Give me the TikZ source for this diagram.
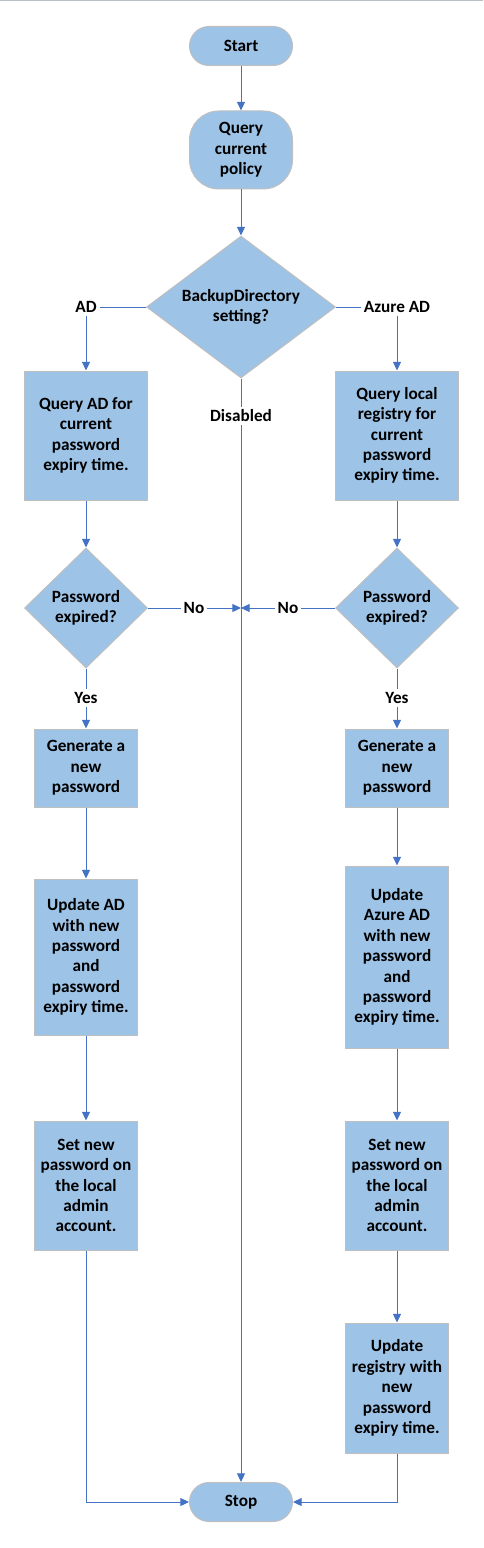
\documentclass[tikz,border=0pt]{standalone}
\usepackage{fontspec}
\setmainfont{Carlito}
\usepackage{tikz}
\usetikzlibrary{arrows.meta}
\usetikzlibrary{shapes.geometric}
\definecolor{boxblue}{HTML}{9DC3E6}
\definecolor{boxedge}{HTML}{BFBFBF}
\definecolor{flowblue}{HTML}{4472C4}
\definecolor{topgray}{HTML}{B8C0C8}
\tikzset{box/.style={draw=boxedge,fill=boxblue,line width=0.75pt,align=center,inner sep=0pt,font=\bfseries\fontsize{12.9}{15.3}\selectfont}}
\tikzset{process/.style={box,minimum width=92.25pt}}
\tikzset{narrow/.style={box,minimum width=77.25pt}}
\tikzset{terminal/.style={box,rounded corners=14.6pt,minimum width=77.25pt,minimum height=29.25pt}}
\tikzset{decision/.style={box,diamond,aspect=1}}
\tikzset{lbl/.style={font=\bfseries\fontsize{12.9}{15.3}\selectfont,inner sep=2pt}}
\tikzset{flow/.style={flowblue,line width=0.75pt,>={Triangle[length=6.5pt,width=6pt]}}}

\begin{document}
\begin{tikzpicture}[x=0.75pt,y=-0.75pt]
\useasboundingbox (0,0) rectangle (483,1548);
\draw [topgray,line width=1.2pt] (0,0.6) -- (483,0.6);

% middle column
\node [terminal] (start) at (241,46) {Start};
\node [narrow,rounded corners=22pt,minimum height=58.5pt] (policy) at (241,150) {Query\\current\\policy};
\node [decision,aspect=1.33,minimum width=141.75pt,minimum height=106.5pt] (setting) at (241,307) {BackupDirectory\\setting?};
\node [terminal] (stop) at (241,1502) {Stop};
\coordinate (midl) at (241,608);

\node [lbl] (lblad) at (86,307) {AD};
\node [lbl] (lblazure) at (397,307) {Azure AD};
\node [lbl] (lbldis) at (241,416) {Disabled};

\node [process,minimum height=96.75pt] (qad) at (86,435.5) {Query AD for\\current\\password\\expiry time.};
\node [process,minimum height=96.75pt] (qreg) at (397,435.5) {Query local\\registry for\\current\\password\\expiry time.};

% both branches
\foreach \x/\s in {86/l,397/r} {
  \node [decision,minimum width=92.25pt,minimum height=90pt] (exp\s) at (\x,608) {Password\\expired?};
  \node [lbl] (yes\s) at (\x,698) {Yes};
  \node [narrow,minimum height=58.5pt] (gen\s) at (\x,768) {Generate a\\new\\password};
  \node [narrow,minimum height=96.75pt] (set\s) at (\x,1185.5) {Set new\\password on\\the local\\admin\\account.};
}
\node [lbl] (nol) at (194,608) {No};
\node [lbl] (nor) at (288,608) {No};

\node [narrow,minimum height=117pt] (updl) at (86,957) {Update AD\\with new\\password\\and\\password\\expiry time.};
\node [narrow,minimum height=136.5pt] (updr) at (397,957) {Update\\Azure AD\\with new\\password\\and\\password\\expiry time.};
\node [narrow,minimum height=97.5pt] (regr) at (397,1388) {Update\\registry with\\new\\password\\expiry time.};

\draw [flow,->] (start) -- (policy);
\draw [flow,->] (policy) -- (setting);
\draw [flow] (setting.west) -- (lblad);
\draw [flow,->] (lblad) -- (qad);
\draw [flow] (setting.east) -- (lblazure);
\draw [flow,->] (lblazure) -- (qreg);
\draw [flow] (setting.south) -- (lbldis);
\draw [flow,->] (lbldis) -- (stop);

\draw [flow,->] (qad) -- (expl);
\draw [flow,->] (qreg) -- (expr);
\draw [flow] (expl.east) -- (nol);
\draw [flow,->] (nol) -- (midl);
\draw [flow] (expr.west) -- (nor);
\draw [flow,->] (nor) -- (midl);

\foreach \s in {l,r} {
  \draw [flow] (exp\s.south) -- (yes\s);
  \draw [flow,->] (yes\s) -- (gen\s);
  \draw [flow,->] (gen\s) -- (upd\s);
  \draw [flow,->] (upd\s) -- (set\s);
}
\draw [flow,->] (setr) -- (regr);
\draw [flow,->] (setl) |- (stop);
\draw [flow,->] (regr) |- (stop);

\end{tikzpicture}
\end{document}
